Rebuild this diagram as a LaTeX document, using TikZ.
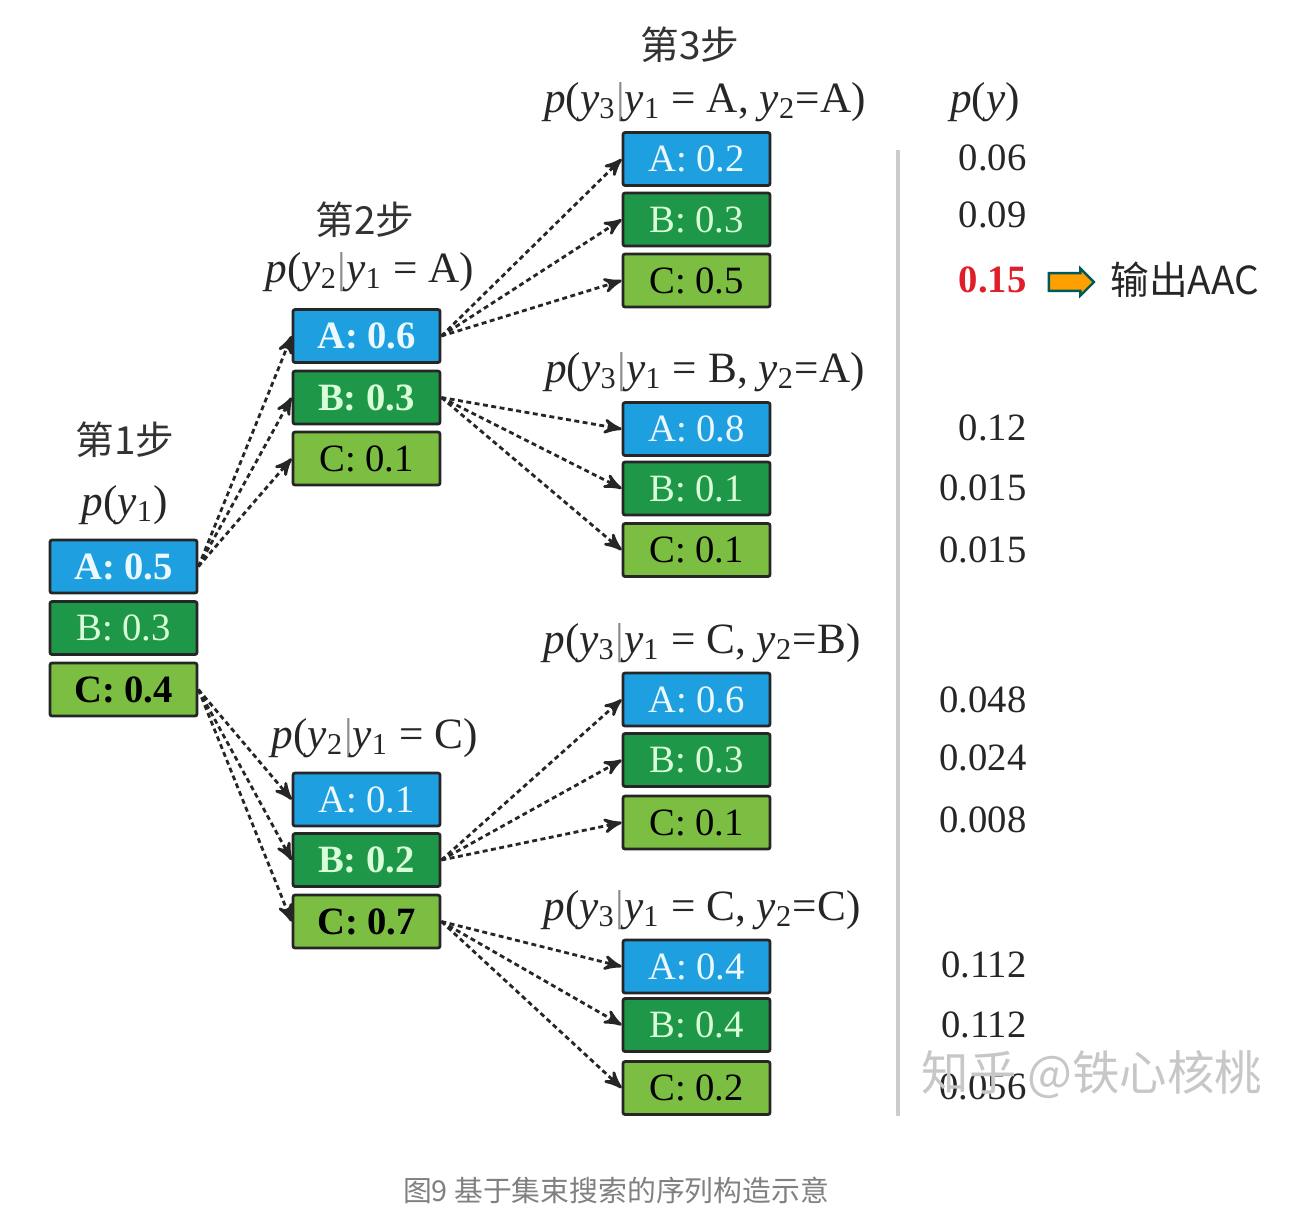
\documentclass[tikz,border=0pt]{standalone}
\usepackage{fontspec}
\setmainfont{Liberation Serif}
\newfontfamily\cjk{Noto Sans CJK SC}
\usepackage{tikz}
\usetikzlibrary{positioning,arrows,shapes.arrows}
\definecolor{boxblue}{RGB}{30,160,224}
\definecolor{boxdark}{RGB}{30,152,72}
\definecolor{boxlight}{RGB}{124,190,66}
\definecolor{outred}{RGB}{222,30,40}
\tikzset{
>=stealth', % small solid heads on the dotted lines
tok/.style={draw=black!85, line width=0.8pt, rounded corners=0.6pt, minimum width=14.7mm, minimum height=5.3mm, inner sep=0pt, font=\fontsize{11}{12}\selectfont},
tokA/.style={tok, fill=boxblue, text=cyan!8},
tokB/.style={tok, fill=boxdark, text=green!15},
tokC/.style={tok, fill=boxlight, text=black},
cond/.style={font=\fontsize{12.3}{14}\selectfont, text=black!85},
stepname/.style={font=\cjk\fontsize{11}{12}\selectfont, text=black!80},
prob/.style={anchor=east, font=\fontsize{11}{12}\selectfont, text=black!85},
beam/.style={draw, ->, dash pattern=on 1.4pt off 1pt, line width=0.8pt, black!85},
}
\newcommand{\yv}[1]{\textit{y}\textsubscript{#1}}
\newcommand{\gbar}{{\color{black!45}|}}

\begin{document}
\begin{tikzpicture}[x=0.1mm, y=-0.1mm]
        \useasboundingbox (0,0) rectangle (1316,1230);
        % step 1
        \node[stepname] at (125,440) (h1) {第1步};
        \node[cond] at (125,505) (c1) {\textit{p}(\yv{1})};
        \node[tokA] at (123.5,566.5) (n1A) {\textbf{A: 0.5}};
        \node[tokB] at (123.5,628) (n1B) {B: 0.3};
        \node[tokC] at (123.5,689.5) (n1C) {\textbf{C: 0.4}};
        % step 2
        \node[stepname] at (365,220) (h2) {第2步};
        \node[cond] at (370,272) (c2a) {\textit{p}(\yv{2}\gbar\yv{1} = A)};
        \node[tokA] at (366.5,336) (n2A) {\textbf{A: 0.6}};
        \node[tokB] at (366.5,397.5) (n2B) {\textbf{B: 0.3}};
        \node[tokC] at (366.5,458.5) (n2C) {C: 0.1};
        \node[cond] at (375,738) (c2c) {\textit{p}(\yv{2}\gbar\yv{1} = C)};
        \node[tokA] at (366.5,799.5) (m2A) {A: 0.1};
        \node[tokB] at (366.5,860) (m2B) {\textbf{B: 0.2}};
        \node[tokC] at (366.5,921.5) (m2C) {\textbf{C: 0.7}};
        % step 3
        \node[stepname] at (690,45) (h3) {第3步};
        \node[cond] at (705,102) (c31) {\textit{p}(\yv{3}\gbar\yv{1} = A, \yv{2}=A)};
        \node[tokA] at (696.5,159) (g1A) {A: 0.2};
        \node[tokB] at (696.5,219.5) (g1B) {B: 0.3};
        \node[tokC] at (696.5,280.5) (g1C) {C: 0.5};
        \node[cond] at (705,372) (c32) {\textit{p}(\yv{3}\gbar\yv{1} = B, \yv{2}=A)};
        \node[tokA] at (696.5,429) (g2A) {A: 0.8};
        \node[tokB] at (696.5,488.5) (g2B) {B: 0.1};
        \node[tokC] at (696.5,550) (g2C) {C: 0.1};
        \node[cond] at (702,643) (c33) {\textit{p}(\yv{3}\gbar\yv{1} = C, \yv{2}=B)};
        \node[tokA] at (696.5,699.5) (g3A) {A: 0.6};
        \node[tokB] at (696.5,760) (g3B) {B: 0.3};
        \node[tokC] at (696.5,822.5) (g3C) {C: 0.1};
        \node[cond] at (702,910) (c34) {\textit{p}(\yv{3}\gbar\yv{1} = C, \yv{2}=C)};
        \node[tokA] at (696.5,966.5) (g4A) {A: 0.4};
        \node[tokB] at (696.5,1025) (g4B) {B: 0.4};
        \node[tokC] at (696.5,1088) (g4C) {C: 0.2};
        % beam connections
        \path (n1A.east) edge[beam] (n2A.west) edge[beam] (n2B.west) edge[beam] (n2C.west);
        \path (n1C.east) edge[beam] (m2A.west) edge[beam] (m2B.west) edge[beam] (m2C.west);
        \path (n2A.east) edge[beam] (g1A.west) edge[beam] (g1B.west) edge[beam] (g1C.west);
        \path (n2B.east) edge[beam] (g2A.west) edge[beam] (g2B.west) edge[beam] (g2C.west);
        \path (m2B.east) edge[beam] (g3A.west) edge[beam] (g3B.west) edge[beam] (g3C.west);
        \path (m2C.east) edge[beam] (g4A.west) edge[beam] (g4B.west) edge[beam] (g4C.west);
        % joint probabilities
        \coordinate (sepT) at (898,150);
        \coordinate (sepB) at (898,1116);
        \draw[black!20, line width=0.45mm] (sepT) -- (sepB);
        \node[cond] at (985,102) (cy) {\textit{p}(\textit{y})};
        \node[prob] at (1039,158) (p1) {0.06};
        \node[prob] at (1039,215) (p2) {0.09};
        \node[prob, text=outred, font=\bfseries\fontsize{11}{12}\selectfont] at (1039,280) (p3) {0.15};
        \node[prob] at (1039,428) (p4) {0.12};
        \node[prob] at (1039,488) (p5) {0.015};
        \node[prob] at (1039,550) (p6) {0.015};
        \node[prob] at (1039,700) (p7) {0.048};
        \node[prob] at (1039,758) (p8) {0.024};
        \node[prob] at (1039,820) (p9) {0.008};
        \node[prob] at (1039,965) (p10) {0.112};
        \node[prob] at (1039,1025) (p11) {0.112};
        \node[prob] at (1039,1087) (p12) {0.056};
        \node[single arrow, draw=teal!70!black, fill=orange!75!yellow, line width=0.7pt, minimum height=4.5mm, minimum width=2.7mm, single arrow head extend=0.45mm, inner sep=0.75mm] at (1067,282) (outarr) {};
        \node[anchor=west, font=\cjk\fontsize{11}{12}\selectfont, text=black!85] at (1098,280) (out) {输出AAC};
        % watermark and caption
        \node[font=\cjk\fontsize{13.5}{14}\selectfont, text=black!22] at (1092,1075) (wm) {知乎 @铁心核桃};
        \node[font=\cjk\fontsize{8.2}{9}\selectfont, text=black!50] at (616,1190) (cap) {图9 基于集束搜索的序列构造示意};
    \end{tikzpicture}
\end{document}
